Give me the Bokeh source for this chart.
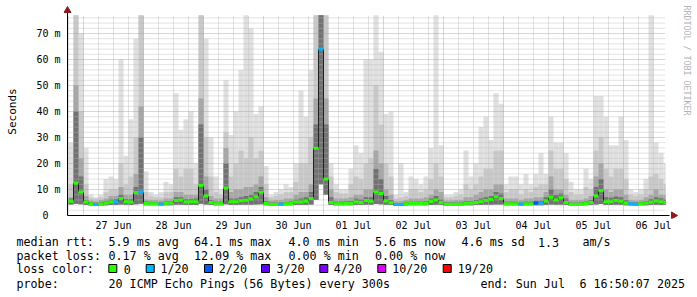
import numpy as np
from bokeh.plotting import figure
from bokeh.models import Range1d, FixedTicker
from bokeh.embed import file_html
from bokeh.resources import INLINE
from bokeh.core.properties import value

# ---------------- data (hours since 27 Jun 00:00, 2-hour steps) ----------------
step_start = -6.0          # 26 Jun 18:00
step_hours = 2.0
data_start = -6.4          # 26 Jun 17:36 (left edge of graph)
data_end = 232.83          # 06 Jul 16:50 (end of graph)

median = [5.5, 12.5, 9, 5.2, 4.5, 4.2, 4.4, 4.8, 5.2, 5.3,
          6.5, 5.3, 5.2, 8.8, 9, 4.6, 4.5, 4.5, 4.3, 4.7,
          4.8, 5.8, 6.0, 5.2, 5.3, 5.3, 11.5, 7.5, 5.0, 4.5,
          4.5, 10.6, 5.3, 5.3, 5.7, 5.9, 6.3, 7.2, 8.9, 4.6,
          4.3, 4.3, 4.3, 4.5, 4.6, 5.2, 5.2, 5.5, 6.5, 25.9,
          64.0, 14.0, 5.0, 4.5, 4.5, 4.6, 4.7, 5.2, 5.0, 5.8,
          5.5, 9.0, 8.5, 5.6, 4.9, 4.2, 4.2, 4.5, 4.6, 4.6,
          4.6, 4.7, 5.4, 6.0, 5.0, 4.3, 4.3, 4.3, 4.4, 4.7,
          4.8, 5.0, 5.3, 5.8, 6.2, 7.2, 6.5, 4.5, 4.5, 4.5,
          4.3, 4.5, 4.5, 4.8, 4.8, 5.6, 7.0, 6.0, 6.8, 5.0,
          4.3, 4.3, 4.4, 4.6, 5.0, 7.5, 9.5, 5.3, 5.3, 5.8,
          5.5, 4.8, 4.5, 4.3, 4.5, 4.8, 5.1, 5.6, 5.3, 5.0]

low = [4.2, 4.5, 4.3, 4.0, 3.8, 3.7, 3.8, 3.9, 4.0, 4.0,
       4.2, 4.1, 4.0, 4.3, 4.5, 3.9, 3.9, 3.9, 3.8, 3.9,
       3.9, 4.1, 4.1, 4.0, 4.0, 4.0, 4.5, 4.2, 4.0, 3.9,
       3.9, 4.3, 4.0, 4.0, 4.1, 4.1, 4.1, 4.2, 4.3, 3.9,
       3.8, 3.8, 3.8, 3.9, 3.9, 4.0, 4.0, 4.0, 4.2, 6.0,
       12.0, 8.0, 4.0, 3.9, 3.9, 3.9, 3.9, 4.0, 4.0, 4.1,
       4.1, 4.4, 4.3, 4.1, 4.0, 3.7, 3.7, 3.8, 3.9, 3.9,
       3.9, 3.9, 4.0, 4.1, 4.0, 3.8, 3.8, 3.8, 3.8, 3.9,
       3.9, 4.0, 4.0, 4.1, 4.1, 4.2, 4.2, 3.9, 3.9, 3.9,
       3.8, 3.9, 3.9, 3.9, 3.9, 4.0, 4.2, 4.1, 4.1, 4.0,
       3.8, 3.8, 3.8, 3.9, 4.0, 4.2, 4.4, 4.0, 4.0, 4.1,
       4.1, 3.9, 3.8, 3.8, 3.9, 3.9, 4.0, 4.1, 4.0, 4.0]

core = [6.5, 40, 15, 6, 5.2, 4.9, 5.1, 5.6, 6.2, 6.3,
        8, 6.3, 6.3, 11, 30, 5.4, 5.2, 5.2, 5.0, 5.4,
        5.5, 7, 7, 6.3, 6.3, 6.5, 35, 10, 6, 5.3,
        5.3, 20, 6.5, 6.5, 7, 7.5, 8, 9, 11, 5.5,
        5.0, 5.0, 5.0, 5.2, 5.4, 6.2, 6.5, 7, 9, 35,
        77, 35, 7, 5.3, 5.3, 5.4, 5.6, 6.5, 6.2, 7,
        7, 18, 14, 7.5, 6, 4.8, 4.8, 5.2, 5.3, 5.3,
        5.3, 5.5, 6.5, 7.5, 6.2, 5.0, 5.0, 5.0, 5.1, 5.5,
        5.6, 6, 6.5, 7, 7.5, 9, 8.5, 5.3, 5.3, 5.3,
        5.0, 5.3, 5.3, 5.7, 5.7, 7, 10, 8, 8.5, 6.5,
        5.0, 5.0, 5.1, 5.4, 6, 11, 14, 7, 6.8, 7.3,
        7, 6, 5.2, 5.0, 5.2, 5.6, 6.3, 7, 6.6, 6.2]

dark = [7, 50, 22, 7.5, 5.8, 5.5, 6, 6.5, 7.5, 7.5,
        11, 8, 8, 16, 42, 6.2, 6, 6, 5.8, 6.5,
        6.5, 9, 9, 8, 8, 8, 45, 15, 7.5, 6.5,
        6.5, 26, 9, 10, 10, 11, 11, 12, 15, 7,
        5.8, 6, 6, 6.5, 6.5, 8, 9, 9, 12, 45,
        77, 45, 10, 6.5, 6.5, 6.5, 7, 8, 8, 10,
        10, 25, 20, 10, 8, 5.5, 5.5, 6, 6.5, 6.5,
        6.5, 7, 8, 10, 9, 5.8, 5.8, 6, 6, 7,
        7, 8, 9, 10, 10, 12, 12, 6.5, 6.5, 6.5,
        6, 6.5, 6.5, 7, 7, 9, 15, 10, 10, 8,
        6, 6, 6, 6.5, 7.5, 15, 20, 10, 9, 10,
        10, 8, 6, 5.8, 6, 7, 8, 10, 8, 8]

mid = [12, 77, 40, 12, 6.8, 6.5, 7, 9, 10, 10,
       20, 12, 15, 30, 77, 9, 7.5, 7, 7, 9,
       9, 18, 15, 18, 18, 12, 77, 30, 15, 9,
       8, 32, 15, 20, 25, 22, 30, 22, 25, 12,
       7, 7.5, 8, 9, 9, 13, 20, 20, 30, 77,
       77, 77, 15, 9, 8.5, 8.5, 12, 15, 14, 20,
       22, 50, 35, 20, 15, 6.5, 7, 7.5, 10, 10,
       9, 10, 14, 20, 15, 7, 7, 7.5, 8, 12,
       10, 12, 15, 18, 18, 25, 25, 9, 10, 10,
       8, 10, 9, 11, 12, 12, 25, 18, 18, 14,
       9, 8, 8, 11, 10, 25, 30, 18, 15, 18,
       18, 14, 8, 7.5, 8, 10, 15, 16, 14, 12]

peak = [28, 77, 70, 26, 8, 7, 8, 14, 15, 14,
        60, 23, 37, 68, 77, 17, 9, 8, 9, 13,
        12, 47, 33, 37, 40, 20, 77, 68, 30, 15,
        10, 52, 31, 40, 56, 77, 72, 39, 42, 19,
        8, 9, 10, 12, 11, 20, 48, 38, 56, 77,
        77, 77, 20, 12, 10, 10, 18, 27, 24, 60,
        60, 77, 63, 39, 40, 8, 20, 9, 15, 14,
        12, 15, 26, 77, 27, 8, 8, 9, 10, 25,
        15, 20, 34, 38, 29, 47, 43, 12, 15, 15,
        12, 16, 12, 16, 24, 16, 38, 28, 28, 24,
        13, 10, 10, 18, 14, 46, 46, 38, 27, 27,
        38, 29, 10, 9, 10, 14, 77, 28, 24, 20]

loss = [0, 0, 0, 0, 0, 1, 0, 0, 0, 1,
        0, 0, 0, 0, 1, 0, 0, 0, 1, 0,
        0, 0, 0, 0, 0, 0, 0, 0, 0, 0,
        0, 0, 0, 0, 0, 0, 0, 0, 0, 0,
        0, 0, 1, 0, 0, 0, 0, 0, 0, 0,
        1, 0, 0, 0, 0, 0, 0, 0, 0, 0,
        0, 0, 0, 0, 0, 1, 1, 0, 0, 0,
        0, 0, 0, 0, 0, 0, 0, 0, 0, 0,
        0, 0, 0, 0, 0, 0, 0, 0, 0, 0,
        1, 0, 0, 2, 1, 0, 0, 0, 0, 0,
        0, 0, 0, 0, 0, 0, 0, 0, 0, 0,
        0, 0, 1, 1, 0, 0, 0, 0, 0, 0]

loss_colors = ["#26ff00", "#00b8ff", "#0059ff", "#5e00ff", "#7e00ff", "#dd00ff", "#ff0000"]
loss_labels = ["0", "1/20", "2/20", "3/20", "4/20", "10/20", "19/20"]

y_ticks = [0, 10, 20, 30, 40, 50, 60, 70]
y_tick_labels = ["0\u00a0\u00a0", "10 m", "20 m", "30 m", "40 m", "50 m", "60 m", "70 m"]
day_starts = [0, 24, 48, 72, 96, 120, 144, 168, 192, 216]
day_labels = ["27 Jun", "28 Jun", "29 Jun", "30 Jun", "01 Jul",
              "02 Jul", "03 Jul", "04 Jul", "05 Jul", "06 Jul"]
graph_top = 76.9
credit_text = "RRDTOOL / TOBI OETIKER"

stats_rtt = [("median rtt:", 16), ("5.9 ms avg", 108), ("64.1 ms max", 193.5),
             ("4.0 ms min", 288), ("5.6 ms now", 374.5), ("4.6 ms sd", 461),
             ("1.3", 537.5), ("am/s", 582)]
stats_loss = [("packet loss:", 16), ("0.17 % avg", 108), ("12.09 % max", 193.5),
              ("0.00 % min", 288), ("0.00 % now", 374.5)]
probe_row = [("probe:", 16), ("20 ICMP Echo Pings (56 Bytes) every 300s", 108),
             ("end: Sun Jul", 480), ("6 16:50:07 2025", 579)]
box_x = [108.3, 145.7, 204, 261, 319.3, 377.3, 442.7]
box_label_x = [123.3, 160, 218.3, 276, 333.3, 391.7, 457.3]

# ---------------- geometry ----------------
FONT = "DejaVu Sans Mono"
W, H_MAIN, H_LEG = 697, 234, 63
FRAME_L, FRAME_R, FRAME_T, FRAME_B = 63, 697, 4, 218
PX_PER_H, PX_PER_MS = 2.5, 2.6
X0 = data_start - (67 - FRAME_L) / PX_PER_H
X1 = X0 + (FRAME_R - FRAME_L) / PX_PER_H
Y0 = -(FRAME_B - 215) / PX_PER_MS
Y1 = Y0 + (FRAME_B - FRAME_T) / PX_PER_MS

p = figure(width=W, height=H_MAIN, output_backend="svg", toolbar_location=None,
           x_range=Range1d(X0, X1), y_range=Range1d(Y0, Y1),
           min_border_left=FRAME_L, min_border_right=W - FRAME_R,
           min_border_top=FRAME_T, min_border_bottom=H_MAIN - FRAME_B)
p.outline_line_color = None
p.grid.visible = False
p.background_fill_color = "white"
p.border_fill_color = "white"

n = len(median)
t0 = step_start + step_hours * np.arange(n)
t1 = np.minimum(t0 + step_hours, data_end)
lo = np.array(low)

for arr, col in [(peak, "#e0e0e0"), (mid, "#c9c9c9"), (dark, "#a6a6a6"), (core, "#727272")]:
    p.quad(left=t0, right=t1, bottom=lo, top=np.array(arr), fill_color=col, line_color=None)

# grid (drawn over the smoke, like rrdtool)
minor_h = [v for v in range(2, 77, 2) if v % 10 != 0]
major_h = [v for v in y_ticks if v > 0]
minor_v = [h for h in range(-6, 233, 6) if h % 24 != 0]
p.segment(x0=[data_start] * len(minor_h), x1=[data_end] * len(minor_h), y0=minor_h, y1=minor_h,
          line_color="#b8b8b8", line_alpha=0.8, line_dash="1 1", line_width=1)
p.segment(x0=minor_v, x1=minor_v, y0=[0] * len(minor_v), y1=[graph_top] * len(minor_v),
          line_color="#b8b8b8", line_alpha=0.8, line_dash="1 1", line_width=1)
p.segment(x0=[data_start] * len(major_h), x1=[data_end] * len(major_h), y0=major_h, y1=major_h,
          line_color="#e08080", line_alpha=0.8, line_dash="1 1", line_width=1)
p.segment(x0=day_starts, x1=day_starts, y0=[0] * len(day_starts), y1=[graph_top] * len(day_starts),
          line_color="#e08080", line_alpha=0.8, line_dash="1 1", line_width=1)

# median: thin dark connectors + loss-coloured steps
med = np.array(median)
p.segment(x0=t1[:-1], x1=t1[:-1], y0=med[:-1], y1=med[1:], line_color="#202020", line_width=1)
p.segment(x0=t0, x1=t1, y0=med, y1=med, line_color=[loss_colors[i] for i in loss], line_width=3)

# axes lines + arrows
x_axis_end = data_start + (669 - 67) / PX_PER_H
x_arrow = data_start + (673 - 67) / PX_PER_H
y_axis_end = (215 - 12) / PX_PER_MS
y_arrow = (215 - 10) / PX_PER_MS
p.segment(x0=[data_start], x1=[x_axis_end], y0=[0], y1=[0], line_color="black", line_width=1)
p.segment(x0=[data_start], x1=[data_start], y0=[0], y1=[y_axis_end], line_color="black", line_width=1)
p.scatter(x=[data_start], y=[y_arrow], marker="triangle", size=7, color="#8b1c1c")
p.scatter(x=[x_arrow], y=[0], marker="triangle", size=7, angle=-np.pi / 2, color="#8b1c1c")

# credit text on the right side, reading downwards
p.text(x=[data_start + (686 - 67) / PX_PER_H], y=[(215 - 5) / PX_PER_MS], text=[credit_text],
       angle=-np.pi / 2, text_align="left", text_baseline="middle",
       text_font=value(FONT), text_font_size="8.3px", text_color="#b4b4b4")

# y axis (left) with "Seconds" label
p.yaxis.ticker = FixedTicker(ticks=y_ticks, minor_ticks=[])
p.yaxis.major_label_overrides = {t: s for t, s in zip(y_ticks, y_tick_labels)}
p.yaxis.axis_line_color = None
p.yaxis.major_tick_line_color = None
p.yaxis.major_tick_out = 0
p.yaxis.major_tick_in = 0
p.yaxis.minor_tick_line_color = None
p.yaxis.major_label_standoff = 3
p.yaxis.major_label_text_font = FONT
p.yaxis.major_label_text_font_size = "10px"
p.yaxis.major_label_text_color = "black"
p.yaxis.axis_label = "Seconds"
p.yaxis.axis_label_standoff = 14
p.yaxis.axis_label_text_font = FONT
p.yaxis.axis_label_text_font_size = "11px"
p.yaxis.axis_label_text_font_style = "normal"
p.yaxis.axis_label_text_color = "black"

# x axis
mid_days = [d + 12 for d in day_starts]
p.xaxis.ticker = FixedTicker(ticks=mid_days, minor_ticks=[])
p.xaxis.major_label_overrides = {t: s for t, s in zip(mid_days, day_labels)}
p.xaxis.axis_line_color = None
p.xaxis.major_tick_line_color = None
p.xaxis.major_tick_out = 0
p.xaxis.major_tick_in = 0
p.xaxis.minor_tick_line_color = None
p.xaxis.major_label_standoff = 1
p.xaxis.major_label_text_font = FONT
p.xaxis.major_label_text_font_size = "10px"
p.xaxis.major_label_text_color = "black"

# ---------------- legend panel ----------------
q = figure(width=W, height=H_LEG, output_backend="svg", toolbar_location=None,
           x_range=Range1d(0, W), y_range=Range1d(H_LEG, 0),
           x_axis_location=None, y_axis_location=None,
           min_border=0)
q.outline_line_color = None
q.grid.visible = False

row_y = [241.5 - H_MAIN, 255.5 - H_MAIN, 268.5 - H_MAIN, 283.5 - H_MAIN]
texts, xs, ys = [], [], []
for row, yy in [(stats_rtt, row_y[0]), (stats_loss, row_y[1]), (probe_row, row_y[3])]:
    for s, xx in row:
        texts.append(s); xs.append(xx); ys.append(yy)
texts.append("loss color:"); xs.append(16); ys.append(row_y[2])
for s, xx in zip(loss_labels, box_label_x):
    texts.append(s); xs.append(xx); ys.append(row_y[2])
q.text(x=xs, y=ys, text=texts, text_font=value(FONT), text_font_size="11.7px",
       text_align="left", text_baseline="middle", text_color="black")
bx = np.array(box_x)
q.quad(left=bx, right=bx + 8, top=[264 - H_MAIN] * len(bx), bottom=[272 - H_MAIN] * len(bx),
       fill_color=loss_colors, line_color="black", line_width=1)

open("out.html", "w").write(file_html([p, q], INLINE))
